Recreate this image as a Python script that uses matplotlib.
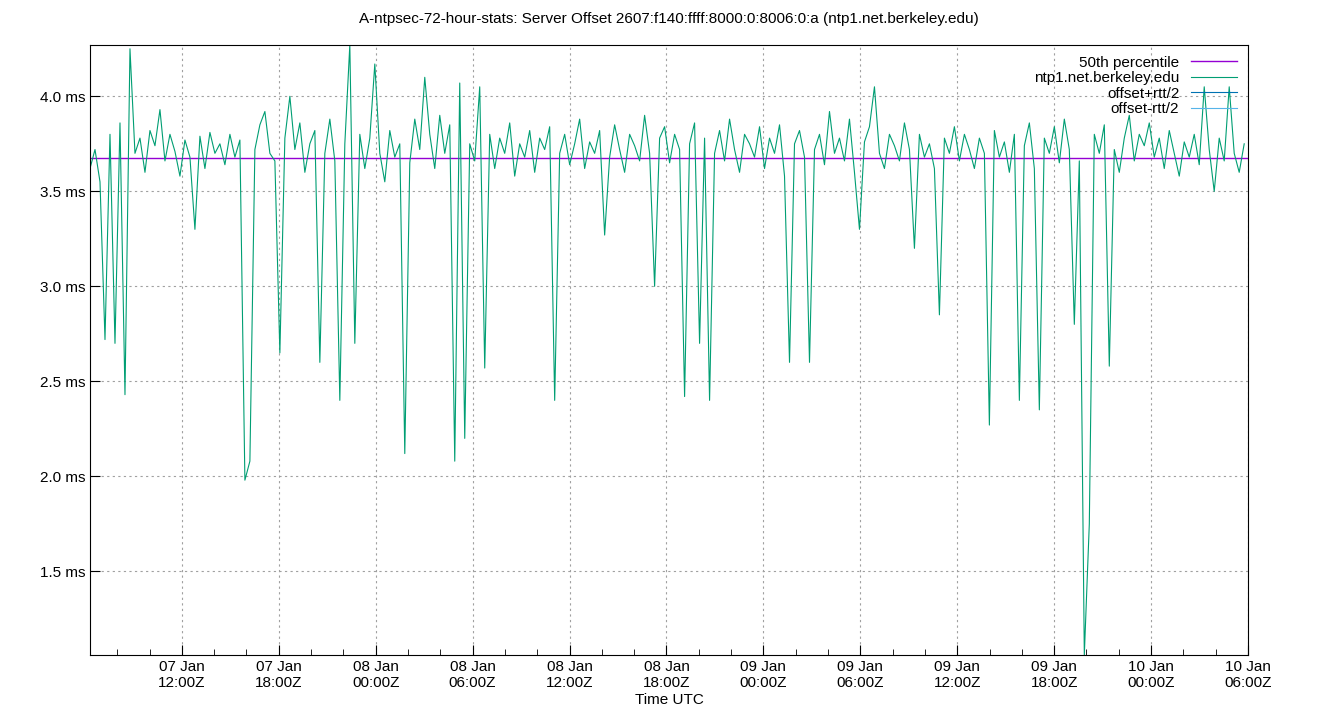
import matplotlib
matplotlib.use("Agg")
import matplotlib.pyplot as plt
import matplotlib.dates as mdates
import numpy as np
from datetime import datetime, timedelta

start_time = datetime(2025, 1, 7, 6, 19)
step_hours = 0.3093
offsets_ms = [
3.62,3.72,3.55,2.72,3.80,2.70,3.86,2.43,4.25,3.70,3.78,3.60,3.82,3.74,3.93,3.66,3.80,3.71,3.58,3.77,
3.68,3.30,3.79,3.62,3.81,3.70,3.75,3.64,3.80,3.68,3.77,1.98,2.08,3.72,3.85,3.92,3.70,3.66,2.65,3.78,
4.00,3.72,3.86,3.60,3.75,3.82,2.60,3.70,3.88,3.66,2.40,3.75,4.27,2.70,3.80,3.62,3.78,4.17,3.70,3.55,
3.82,3.68,3.75,2.12,3.65,3.88,3.72,4.10,3.80,3.62,3.90,3.70,3.85,2.08,4.07,2.20,3.75,3.66,4.05,2.57,
3.80,3.62,3.78,3.70,3.86,3.58,3.75,3.68,3.82,3.60,3.78,3.72,3.84,2.40,3.70,3.80,3.64,3.75,3.88,3.62,
3.76,3.70,3.82,3.27,3.68,3.85,3.72,3.60,3.80,3.74,3.66,3.90,3.70,3.00,3.78,3.84,3.65,3.80,3.72,2.42,
3.75,3.86,2.70,3.78,2.40,3.70,3.82,3.66,3.88,3.72,3.60,3.80,3.75,3.68,3.84,3.62,3.78,3.70,3.85,3.58,
2.60,3.75,3.82,3.68,2.60,3.72,3.80,3.64,3.92,3.70,3.78,3.66,3.88,3.60,3.30,3.76,3.84,4.05,3.70,3.62,
3.80,3.74,3.66,3.86,3.72,3.20,3.80,3.68,3.75,3.62,2.85,3.78,3.70,3.84,3.66,3.80,3.72,3.62,3.78,3.70,
2.27,3.82,3.68,3.76,3.60,3.80,2.40,3.74,3.86,3.62,2.35,3.78,3.70,3.84,3.65,3.88,3.72,2.80,3.66,1.06,
1.75,3.80,3.70,3.85,2.58,3.72,3.60,3.78,3.90,3.66,3.80,3.74,3.86,3.68,3.78,3.62,3.82,3.70,3.58,3.76,
3.68,3.80,3.64,4.05,3.72,3.50,3.78,3.66,4.05,3.70,3.60,3.75]
median_ms = 3.675
y_ticks = [1.5, 2.0, 2.5, 3.0, 3.5, 4.0]

times = [start_time + timedelta(hours=i * step_hours) for i in range(len(offsets_ms))]

fig = plt.figure(figsize=(13.4, 7.2), dpi=100)
ax = fig.add_axes([90/1340, 65/720, 1158/1340, 610/720])
plt.rcParams['font.family'] = ['Liberation Sans', 'DejaVu Sans']

ax.axhline(median_ms, color='#9400d3', lw=1, label='50th percentile')
ax.plot(times, offsets_ms, color='#009e73', lw=0.8, label='ntp1.net.berkeley.edu')
ax.plot([], [], color='#0072b2', lw=0.8, label='offset+rtt/2')
ax.plot([], [], color='#56b4e9', lw=0.8, label='offset-rtt/2')

ax.set_xlim(start_time, datetime(2025, 1, 10, 6, 0))
ax.set_ylim(1.06, 4.27)
ax.set_yticks(y_ticks)
ax.set_yticklabels([f"{v:.1f} ms" for v in y_ticks], fontfamily='Liberation Sans', fontsize=11)
ax.xaxis.set_major_locator(mdates.HourLocator(byhour=[0, 6, 12, 18]))
ax.xaxis.set_minor_locator(mdates.HourLocator(interval=2))
ax.xaxis.set_major_formatter(mdates.DateFormatter("%d %b\n%H:%MZ"))
for l in ax.get_xticklabels():
    l.set_fontfamily('Liberation Sans'); l.set_fontsize(11)
ax.tick_params(direction='in', which='both', top=False, right=False)
ax.tick_params(which='major', length=7)
ax.tick_params(which='minor', length=4)
ax.grid(True, which='major', color='#a0a0a0', ls=(0, (2, 3)), lw=0.8)
ax.set_xlabel("Time UTC", fontfamily='Liberation Sans', fontsize=11, labelpad=2)
ax.set_title("A-ntpsec-72-hour-stats: Server Offset 2607:f140:ffff:8000:0:8006:0:a (ntp1.net.berkeley.edu)",
             fontfamily='Liberation Sans', fontsize=11, pad=16)
leg = ax.legend(loc='upper right', frameon=False, markerfirst=False, prop={'family': 'Liberation Sans', 'size': 11},
                handlelength=3, labelspacing=0.1, borderaxespad=0.3)
for t in leg.get_texts():
    t.set_ha('right')
fig.savefig("out.png", dpi=100)
